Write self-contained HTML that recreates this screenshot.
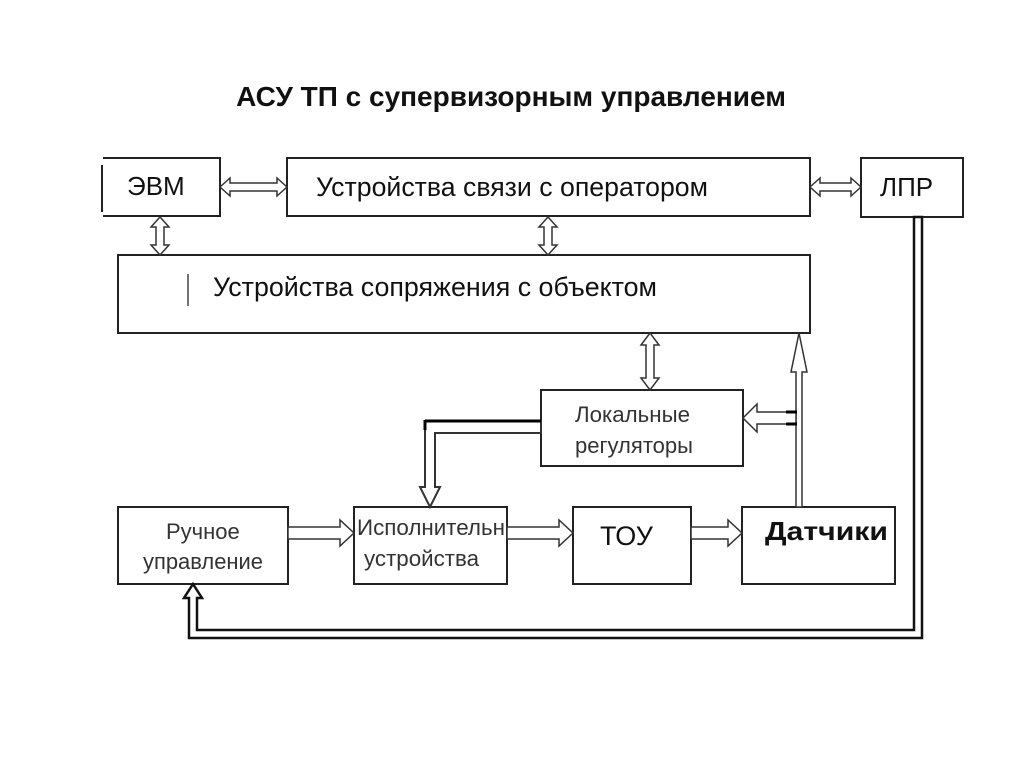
<!DOCTYPE html>
<html><head><meta charset="utf-8"><style>
html,body{margin:0;padding:0;background:#fff;}
svg{display:block;}
text{font-family:"Liberation Sans",sans-serif;fill:#111;}
</style></head><body>
<svg width="1024" height="768" viewBox="0 0 1024 768" xmlns="http://www.w3.org/2000/svg">
<rect width="1024" height="768" fill="#fff"/>
<text x="511" y="106" font-size="28" font-weight="bold" text-anchor="middle">АСУ ТП с супервизорным управлением</text>
<g fill="#fff" stroke="#222" stroke-width="2">
<rect x="102" y="158" width="118" height="58"/>
<rect x="287" y="158" width="523" height="58"/>
<rect x="861" y="158" width="102" height="59"/>
<rect x="118" y="255" width="692" height="78"/>
<rect x="541" y="390" width="202" height="76"/>
<rect x="118" y="507" width="170" height="77"/>
<rect x="354" y="507" width="153" height="77"/>
<rect x="573" y="507" width="118" height="77"/>
<rect x="742" y="507" width="153" height="77"/>
</g>
<rect x="98" y="157" width="5" height="60" fill="#fff"/>
<line x1="102" y1="165" x2="102" y2="212" stroke="#222" stroke-width="2"/>
<line x1="188" y1="274" x2="188" y2="306" stroke="#444" stroke-width="1.5"/>
<g stroke="#333" stroke-width="1.5" fill="#fff">
<polygon points="220,187 230,178 230,183 277,183 277,178 287,187 277,196 277,191 230,191 230,196"/>
<polygon points="810,187 820,178 820,183 851,183 851,178 861,187 851,196 851,191 820,191 820,196"/>
<polygon points="160,217 151,227 156,227 156,245 151,245 160,255 169,245 164,245 164,227 169,227"/>
<polygon points="548,217 539,227 544,227 544,245 539,245 548,255 557,245 552,245 552,227 557,227"/>
<polygon points="650,333 641,345 646,345 646,378 641,378 650,390 659,378 654,378 654,345 659,345"/>
<polygon points="288,527 340,527 340,520 354,533 340,546 340,539 288,539"/>
<polygon points="507,527 559,527 559,520 573,533 559,546 559,539 507,539"/>
<polygon points="691,527 728,527 728,520 742,533 728,546 728,539 691,539"/>
<polygon points="796,507 796,372 791,372 799,333 807,372 802,372 802,507"/>
<polygon points="796,412 757,412 757,404 743,418 757,432 757,424 796,424" />
<polygon points="541,421 425,421 425,487 420,487 430,507 440,487 435,487 435,433 541,433" stroke-width="2"/>
<polygon points="914,217 914,630 197,630 197,598 202,598 193,584 184,598 189,598 189,638 922,638 922,217" stroke="#111" stroke-width="2.5"/>
</g>
<g stroke="#000" stroke-width="3">
<line x1="425" y1="421" x2="541" y2="421"/>
<line x1="425" y1="420" x2="425" y2="430"/>
<line x1="786" y1="412" x2="797" y2="412"/>
<line x1="786" y1="424" x2="797" y2="424"/>
</g>
<g font-size="26">
<text x="127" y="195">ЭВМ</text>
<text x="316" y="196" font-size="27" textLength="392" lengthAdjust="spacingAndGlyphs">Устройства связи с оператором</text>
<text x="880" y="196" font-size="26">ЛПР</text>
<text x="213" y="296" font-size="27" textLength="444" lengthAdjust="spacingAndGlyphs">Устройства сопряжения с объектом</text>
<text x="600" y="545" font-size="27">ТОУ</text>
<text x="765" y="540" font-weight="bold" font-size="26" textLength="123" lengthAdjust="spacingAndGlyphs">Датчики</text>
</g>
<g font-size="22" fill="#333">
<text x="575" y="422" style="fill:#333" textLength="115" lengthAdjust="spacingAndGlyphs">Локальные</text>
<text x="575" y="453" style="fill:#333" textLength="118" lengthAdjust="spacingAndGlyphs">регуляторы</text>
<text x="166" y="539" style="fill:#333">Ручное</text>
<text x="143" y="569" style="fill:#333" textLength="120" lengthAdjust="spacingAndGlyphs">управление</text>
<text x="357" y="535" style="fill:#333" textLength="148" lengthAdjust="spacingAndGlyphs">Исполнительн</text>
<text x="364" y="566" style="fill:#333" textLength="115" lengthAdjust="spacingAndGlyphs">устройства</text>
</g>
</svg>
</body></html>
